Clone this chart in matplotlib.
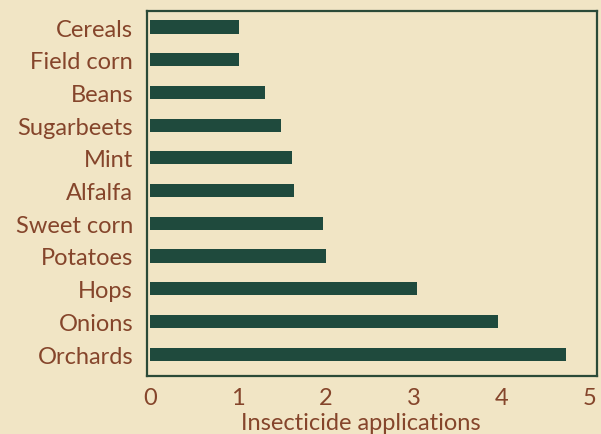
import matplotlib.pyplot as plt

# crops, top to bottom as printed
crops = ["Cereals", "Field corn", "Beans", "Sugarbeets", "Mint", "Alfalfa",
         "Sweet corn", "Potatoes", "Hops", "Onions", "Orchards"]
applications = [1.01, 1.01, 1.31, 1.49, 1.61, 1.64, 1.97, 2.0, 3.03, 3.95, 4.73]
xticks = [0, 1, 2, 3, 4, 5]

paper = "#f1e5c5"
bar_green = "#1f4a3d"
rust = "#85452b"

plt.rcParams['font.family'] = ['Lato', 'DejaVu Sans']

fig = plt.figure(figsize=(6.01, 4.35), dpi=100, facecolor=paper)
ax = fig.add_axes([147 / 601, 1 - 377 / 435, 450 / 601, 365 / 435])
ax.set_facecolor(paper)

# bottom bar (Orchards) at y = 0
ypos = list(range(len(crops)))[::-1]
ax.barh(ypos, applications, height=0.4, color=bar_green)

ax.set_xlim(-0.034, 5.08)
ax.set_ylim(-0.67, 10.49)
ax.set_yticks(ypos)
ax.set_yticklabels(crops)
ax.set_xticks(xticks)
ax.set_xticklabels([str(v) for v in xticks])
ax.tick_params(length=0, labelcolor=rust, labelsize=17)
ax.tick_params(axis='y', pad=10)
ax.tick_params(axis='x', pad=8)
ax.set_xlabel("Insecticide applications", color=rust, fontsize=17)
ax.xaxis.set_label_coords(0.476, -0.1)

for s in ax.spines.values():
    s.set_color("#2b4a38")
    s.set_linewidth(1.6)

fig.savefig("out.png", dpi=100, facecolor=paper)
